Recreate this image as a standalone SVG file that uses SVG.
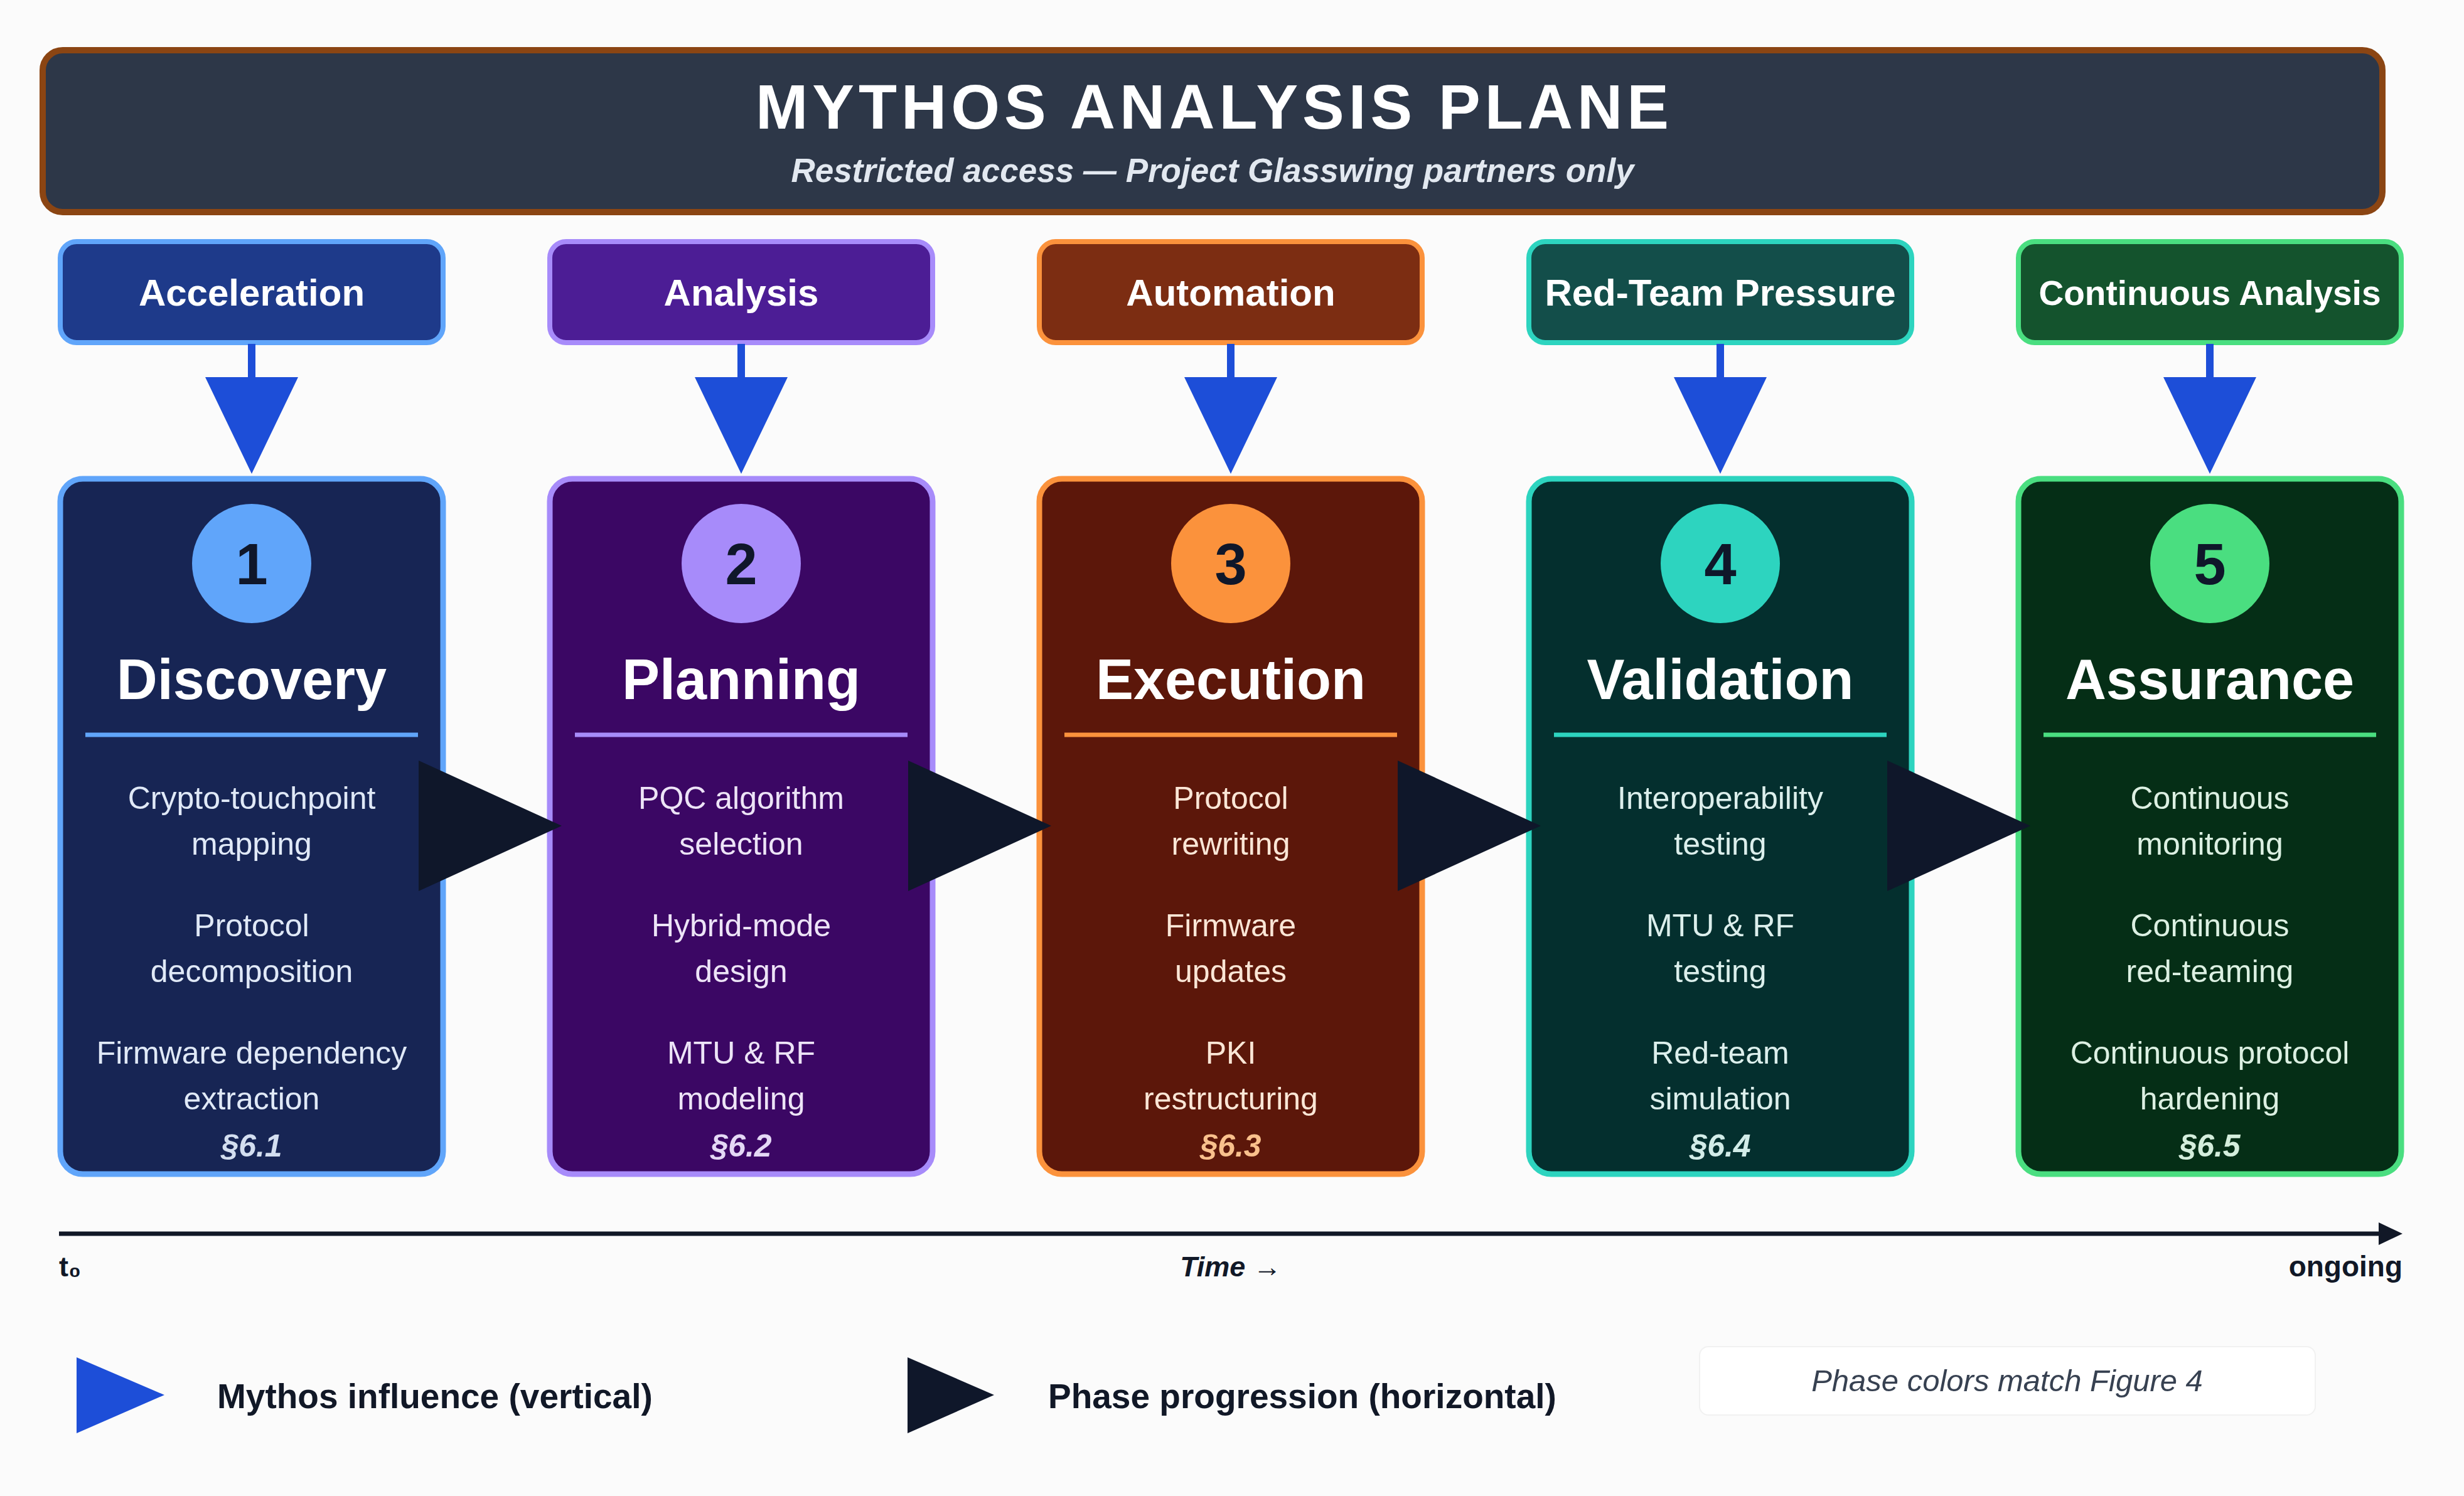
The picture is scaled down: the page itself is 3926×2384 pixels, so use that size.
<svg xmlns="http://www.w3.org/2000/svg" width="3926" height="2384" viewBox="0 0 3926 2384">
<style>
text{font-family:"Liberation Sans",Arial,sans-serif}
.lbl{font-size:60px;font-weight:bold;fill:#ffffff;text-anchor:middle}
.num{font-size:92px;font-weight:bold;fill:#0f172a;text-anchor:middle}
.ttl{font-size:90px;font-weight:bold;fill:#ffffff;text-anchor:middle}
.body{font-size:50px;text-anchor:middle}
.sec{font-size:50px;font-weight:bold;font-style:italic;text-anchor:middle}
.card{stroke-width:9}
.lbox{stroke-width:8}
.varr{fill:#1d4ed8}
.harr{fill:#0f172a}
.leg{font-size:55px;font-weight:bold;fill:#111827}
.axis{font-size:45px;font-weight:bold;fill:#111827}
</style>
<rect x="0" y="0" width="3926" height="2384" fill="#fbfbfb"/>

<g id="header">
<rect x="68" y="80" width="3728" height="258" rx="32" fill="#2d3748" stroke="#8b4513" stroke-width="10"/>
<text x="1935" y="205" font-size="100" font-weight="bold" fill="#ffffff" text-anchor="middle" letter-spacing="7">MYTHOS ANALYSIS PLANE</text>
<text x="1932" y="290" font-size="53" font-weight="bold" font-style="italic" fill="#e2e8f0" text-anchor="middle">Restricted access — Project Glasswing partners only</text>
</g>

<!-- Phase 1 -->
<g id="label-acceleration">
<rect class="lbox" x="96" y="385" width="610" height="161" rx="26" fill="#1e3a8a" stroke="#60a5fa"/>
<text class="lbl" x="401" y="487">Acceleration</text>
</g>
<g id="phase-discovery">
<rect class="card" x="96" y="763" width="610" height="1108" rx="36" fill="#172554" stroke="#60a5fa"/>
<circle cx="401" cy="898" r="95" fill="#60a5fa"/>
<text class="num" x="401" y="931">1</text>
<text class="ttl" x="401" y="1114">Discovery</text>
<line x1="136" y1="1171" x2="666" y2="1171" stroke="#60a5fa" stroke-width="7"/>
<g fill="#e0e9f7">
<text class="body" x="401" y="1289">Crypto-touchpoint</text>
<text class="body" x="401" y="1362">mapping</text>
<text class="body" x="401" y="1492">Protocol</text>
<text class="body" x="401" y="1565">decomposition</text>
<text class="body" x="401" y="1695">Firmware dependency</text>
<text class="body" x="401" y="1768">extraction</text>
</g>
<text class="sec" x="401" y="1843" fill="#d3def0">§6.1</text>
</g>

<!-- Phase 2 -->
<g id="label-analysis">
<rect class="lbox" x="876" y="385" width="610" height="161" rx="26" fill="#4c1d95" stroke="#a78bfa"/>
<text class="lbl" x="1181" y="487">Analysis</text>
</g>
<g id="phase-planning">
<rect class="card" x="876" y="763" width="610" height="1108" rx="36" fill="#3b0764" stroke="#a78bfa"/>
<circle cx="1181" cy="898" r="95" fill="#a78bfa"/>
<text class="num" x="1181" y="931">2</text>
<text class="ttl" x="1181" y="1114">Planning</text>
<line x1="916" y1="1171" x2="1446" y2="1171" stroke="#a78bfa" stroke-width="7"/>
<g fill="#ede4f7">
<text class="body" x="1181" y="1289">PQC algorithm</text>
<text class="body" x="1181" y="1362">selection</text>
<text class="body" x="1181" y="1492">Hybrid-mode</text>
<text class="body" x="1181" y="1565">design</text>
<text class="body" x="1181" y="1695">MTU &amp; RF</text>
<text class="body" x="1181" y="1768">modeling</text>
</g>
<text class="sec" x="1181" y="1843" fill="#e4d8f5">§6.2</text>
</g>

<!-- Phase 3 -->
<g id="label-automation">
<rect class="lbox" x="1656" y="385" width="610" height="161" rx="26" fill="#7c2d12" stroke="#fb923c"/>
<text class="lbl" x="1961" y="487">Automation</text>
</g>
<g id="phase-execution">
<rect class="card" x="1656" y="763" width="610" height="1108" rx="36" fill="#5c170a" stroke="#fb923c"/>
<circle cx="1961" cy="898" r="95" fill="#fb923c"/>
<text class="num" x="1961" y="931">3</text>
<text class="ttl" x="1961" y="1114">Execution</text>
<line x1="1696" y1="1171" x2="2226" y2="1171" stroke="#fb923c" stroke-width="7"/>
<g fill="#fbe6d6">
<text class="body" x="1961" y="1289">Protocol</text>
<text class="body" x="1961" y="1362">rewriting</text>
<text class="body" x="1961" y="1492">Firmware</text>
<text class="body" x="1961" y="1565">updates</text>
<text class="body" x="1961" y="1695">PKI</text>
<text class="body" x="1961" y="1768">restructuring</text>
</g>
<text class="sec" x="1961" y="1843" fill="#f9c08c">§6.3</text>
</g>

<!-- Phase 4 -->
<g id="label-redteam">
<rect class="lbox" x="2436" y="385" width="610" height="161" rx="26" fill="#134e4a" stroke="#2dd4bf"/>
<text class="lbl" x="2741" y="487">Red-Team Pressure</text>
</g>
<g id="phase-validation">
<rect class="card" x="2436" y="763" width="610" height="1108" rx="36" fill="#042f2e" stroke="#2dd4bf"/>
<circle cx="2741" cy="898" r="95" fill="#2dd4bf"/>
<text class="num" x="2741" y="931">4</text>
<text class="ttl" x="2741" y="1114">Validation</text>
<line x1="2476" y1="1171" x2="3006" y2="1171" stroke="#2dd4bf" stroke-width="7"/>
<g fill="#dcefec">
<text class="body" x="2741" y="1289">Interoperability</text>
<text class="body" x="2741" y="1362">testing</text>
<text class="body" x="2741" y="1492">MTU &amp; RF</text>
<text class="body" x="2741" y="1565">testing</text>
<text class="body" x="2741" y="1695">Red-team</text>
<text class="body" x="2741" y="1768">simulation</text>
</g>
<text class="sec" x="2741" y="1843" fill="#d2ece8">§6.4</text>
</g>

<!-- Phase 5 -->
<g id="label-continuous">
<rect class="lbox" x="3216" y="385" width="610" height="161" rx="26" fill="#14532d" stroke="#4ade80"/>
<text class="lbl" x="3521" y="486" style="font-size:55px">Continuous Analysis</text>
</g>
<g id="phase-assurance">
<rect class="card" x="3216" y="763" width="610" height="1108" rx="36" fill="#052e16" stroke="#4ade80"/>
<circle cx="3521" cy="898" r="95" fill="#4ade80"/>
<text class="num" x="3521" y="931">5</text>
<text class="ttl" x="3521" y="1114">Assurance</text>
<line x1="3256" y1="1171" x2="3786" y2="1171" stroke="#4ade80" stroke-width="7"/>
<g fill="#dcf0e2">
<text class="body" x="3521" y="1289">Continuous</text>
<text class="body" x="3521" y="1362">monitoring</text>
<text class="body" x="3521" y="1492">Continuous</text>
<text class="body" x="3521" y="1565">red-teaming</text>
<text class="body" x="3521" y="1695">Continuous protocol</text>
<text class="body" x="3521" y="1768">hardening</text>
</g>
<text class="sec" x="3521" y="1843" fill="#d4eedc">§6.5</text>
</g>

<g id="connectors">
<!-- vertical Mythos influence arrows -->
<g class="vertical">
<rect class="varr" x="395" y="548" width="12" height="56"/>
<polygon class="varr" points="327,601 475,601 401,755"/>
<rect class="varr" x="1175" y="548" width="12" height="56"/>
<polygon class="varr" points="1107,601 1255,601 1181,755"/>
<rect class="varr" x="1955" y="548" width="12" height="56"/>
<polygon class="varr" points="1887,601 2035,601 1961,755"/>
<rect class="varr" x="2735" y="548" width="12" height="56"/>
<polygon class="varr" points="2667,601 2815,601 2741,755"/>
<rect class="varr" x="3515" y="548" width="12" height="56"/>
<polygon class="varr" points="3447,601 3595,601 3521,755"/>
</g>
<!-- horizontal phase progression arrows -->
<g class="horizontal">
<polygon class="harr" points="667,1212 895,1316 667,1420"/>
<polygon class="harr" points="1447,1212 1675,1316 1447,1420"/>
<polygon class="harr" points="2227,1212 2455,1316 2227,1420"/>
<polygon class="harr" points="3007,1212 3235,1316 3007,1420"/>
</g>
</g>

<g id="time-axis">
<line x1="94" y1="1966" x2="3795" y2="1966" stroke="#111827" stroke-width="7"/>
<polygon points="3790,1948 3828,1966 3790,1984" fill="#111827"/>
<text class="axis" x="94" y="2034">t₀</text>
<text class="axis" x="1961" y="2034" text-anchor="middle" font-style="italic">Time →</text>
<text class="axis" x="3828" y="2034" text-anchor="end" style="font-size:46px">ongoing</text>
</g>

<g id="legend">
<polygon points="122,2163 262,2223 122,2284" fill="#1d4ed8"/>
<text class="leg" x="346" y="2244">Mythos influence (vertical)</text>
<polygon points="1446,2163 1584,2223 1446,2284" fill="#0f172a"/>
<text class="leg" x="1670" y="2244">Phase progression (horizontal)</text>
</g>

<g id="note">
<rect x="2708" y="2146" width="981" height="109" rx="14" fill="#ffffff" stroke="#f1f1f1" stroke-width="2"/>
<text x="3198" y="2217" font-family="'DejaVu Sans',sans-serif" font-size="49" font-style="italic" fill="#374151" text-anchor="middle">Phase colors match Figure 4</text>
</g>
</svg>
